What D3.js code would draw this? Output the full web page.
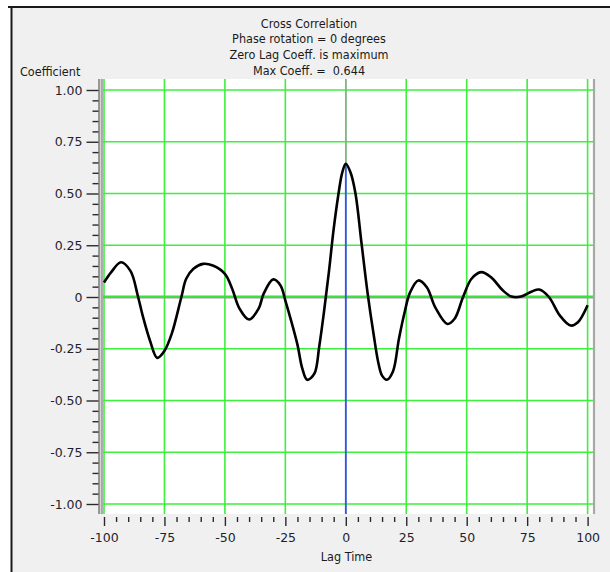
<!DOCTYPE html>
<html>
<head>
<meta charset="utf-8">
<script src="https://cdn.jsdelivr.net/npm/d3@7"></script>
<style>
  html, body { margin: 0; padding: 0; background: #ffffff; }
  svg { display: block; }
  text { white-space: pre; }
</style>
</head>
<body>
<svg id="chart" width="610" height="572"></svg>
<script>
// Title block
const titleLines = ["Cross Correlation", "Phase rotation = 0 degrees", "Zero Lag Coeff. is maximum", "Max Coeff. =  0.644"];
const yAxisTitle = "Coefficient";
const xAxisTitle = "Lag Time";

// Axis ticks
const xMajorTicks = [-100, -75, -50, -25, 0, 25, 50, 75, 100];
const yMajorTicks = [-1, -0.75, -0.5, -0.25, 0, 0.25, 0.5, 0.75, 1];

// Correlation curve: lag vs. coefficient
const lags = [-100, -97, -93, -89, -86, -84, -81, -78, -75, -72, -68, -66, -63, -59, -55, -50, -47, -44, -40, -36, -34, -30, -27, -25, -23, -20, -18, -16, -13, -11, -9, -7, -5, -3, -1.5, 0, 2, 4, 6.5, 9, 11.5, 13.5, 15, 17, 19.5, 22, 24.5, 26.5, 30, 33.5, 37, 42, 45, 48.5, 52, 56, 60, 65, 68.5, 72.5, 77, 80, 84, 88.5, 93, 96, 100];
const coeffs = [0.07, 0.12, 0.168, 0.125, 0.005, -0.09, -0.21, -0.294, -0.26, -0.178, 0.0, 0.088, 0.136, 0.16, 0.152, 0.112, 0.04, -0.055, -0.109, -0.055, 0.015, 0.085, 0.056, -0.017, -0.098, -0.23, -0.345, -0.4, -0.37, -0.24, -0.07, 0.12, 0.33, 0.5, 0.6, 0.644, 0.6, 0.5, 0.26, 0.02, -0.18, -0.32, -0.38, -0.4, -0.36, -0.2, -0.065, 0.02, 0.08, 0.047, -0.05, -0.13, -0.105, 0.0, 0.088, 0.12, 0.096, 0.031, 0.002, 0.002, 0.027, 0.036, 0.0, -0.089, -0.138, -0.122, -0.04];
const maxLag = 0;
const maxCoeff = 0.644;

const svg = d3.select("#chart");
const W = 610, H = 572;

// plot frame
const plot = { left: 103, right: 595, top: 79, bottom: 514 };

const x = d3.scaleLinear().domain([-100, 100]).range([104, 587.6]);
const y = d3.scaleLinear().domain([-1, 1]).range([504, 90]);

// window background and border
svg.append("rect").attr("x", 0).attr("y", 0).attr("width", W).attr("height", H).attr("fill", "#ffffff");
svg.append("rect").attr("x", 11).attr("y", 7).attr("width", W - 11).attr("height", H - 7).attr("fill", "#f0f0f0");
svg.append("line").attr("x1", 8).attr("x2", W).attr("y1", 7).attr("y2", 7).attr("stroke", "#1a1a1a").attr("stroke-width", 2);
svg.append("line").attr("x1", 11.5).attr("x2", 11.5).attr("y1", 7).attr("y2", H).attr("stroke", "#1a1a1a").attr("stroke-width", 2);

// plot area
svg.append("rect")
  .attr("x", plot.left).attr("y", plot.top)
  .attr("width", plot.right - plot.left).attr("height", plot.bottom - plot.top)
  .attr("fill", "#ffffff");

// grid
const grid = svg.append("g").attr("stroke", "#3cf03c").attr("stroke-width", 1.6);
grid.selectAll("line.v").data(xMajorTicks).join("line")
  .attr("x1", d => x(d)).attr("x2", d => x(d))
  .attr("y1", plot.top).attr("y2", plot.bottom);
grid.selectAll("line.h").data(yMajorTicks.filter(d => d !== 0)).join("line")
  .attr("x1", plot.left).attr("x2", plot.right)
  .attr("y1", d => y(d)).attr("y2", d => y(d));

// zero coefficient line
svg.append("line")
  .attr("x1", plot.left).attr("x2", plot.right)
  .attr("y1", y(0)).attr("y2", y(0))
  .attr("stroke", "#9a9a9a").attr("stroke-width", 3);
svg.append("line")
  .attr("x1", plot.left).attr("x2", plot.right)
  .attr("y1", y(0)).attr("y2", y(0))
  .attr("stroke", "#3ce03c").attr("stroke-width", 1.8);

// zero lag line: gray above the maximum, blue below it
svg.append("line")
  .attr("x1", x(maxLag)).attr("x2", x(maxLag))
  .attr("y1", plot.top).attr("y2", y(maxCoeff))
  .attr("stroke", "#a0a0a0").attr("stroke-width", 1.6);
svg.append("line")
  .attr("x1", x(maxLag)).attr("x2", x(maxLag))
  .attr("y1", y(maxCoeff)).attr("y2", plot.bottom)
  .attr("stroke", "#4848ff").attr("stroke-width", 1.8);

// plot side borders
svg.append("rect").attr("x", 98.5).attr("y", plot.top).attr("width", 4).attr("height", plot.bottom - plot.top).attr("fill", "#d4d4d4");
svg.append("line").attr("x1", 99).attr("x2", 99).attr("y1", plot.top).attr("y2", plot.bottom).attr("stroke", "#6a6a6a").attr("stroke-width", 1.2);
svg.append("line").attr("x1", 102).attr("x2", 102).attr("y1", plot.top).attr("y2", plot.bottom).attr("stroke", "#8a8a8a").attr("stroke-width", 1.2);
svg.append("line").attr("x1", 594).attr("x2", 594).attr("y1", plot.top).attr("y2", plot.bottom).attr("stroke", "#a8a8a8").attr("stroke-width", 2.2);

// correlation curve
const pts = lags.map((l, i) => [l, coeffs[i]]);
svg.append("path")
  .datum(pts)
  .attr("fill", "none")
  .attr("stroke", "#000000")
  .attr("stroke-width", 2.6)
  .attr("stroke-linejoin", "round")
  .attr("d", d3.line().x(d => x(d[0])).y(d => y(d[1])).curve(d3.curveCatmullRom.alpha(0.5)));

// axes
const tickFont = "'DejaVu Sans', sans-serif";
const labelFont = "'DejaVu Sans Condensed', 'DejaVu Sans', sans-serif";

const yMinor = d3.range(-1, 1.0001, 0.05).map(v => +v.toFixed(2)).filter(v => !yMajorTicks.includes(v));
const xMinor = d3.range(-100, 101, 5).filter(v => !xMajorTicks.includes(v));

const yAxisMinor = svg.append("g").attr("transform", "translate(98.5,0)")
  .call(d3.axisLeft(y).tickValues(yMinor).tickSize(6).tickFormat(""));
const yAxisMajor = svg.append("g").attr("transform", "translate(98.5,0)")
  .call(d3.axisLeft(y).tickValues(yMajorTicks).tickSize(12).tickPadding(4)
    .tickFormat(d => d === 0 ? "0" : d.toFixed(2)));

const xAxisMinor = svg.append("g").attr("transform", "translate(0,517)")
  .call(d3.axisBottom(x).tickValues(xMinor).tickSize(5).tickFormat(""));
const xAxisMajor = svg.append("g").attr("transform", "translate(0,517)")
  .call(d3.axisBottom(x).tickValues(xMajorTicks).tickSize(9).tickPadding(7)
    .tickFormat(d => String(d)));

[yAxisMinor, yAxisMajor, xAxisMinor, xAxisMajor].forEach(g => {
  g.select(".domain").remove();
  g.selectAll(".tick line").attr("stroke", "#2a2a2a").attr("stroke-width", 1.4);
  g.selectAll(".tick text").attr("fill", "#1e1e2e").style("font-family", tickFont).style("font-size", "12.5px");
});

// titles
svg.append("g").selectAll("text").data(titleLines).join("text")
  .attr("x", 309).attr("y", (d, i) => 27.5 + i * 15.9)
  .attr("text-anchor", "middle")
  .style("font-family", labelFont).style("font-size", "12.5px").attr("fill", "#1a1a1a")
  .text(d => d);

svg.append("text")
  .attr("x", 20).attr("y", 75.5)
  .style("font-family", labelFont).style("font-size", "12.5px").attr("fill", "#1a1a1a")
  .text(yAxisTitle);

svg.append("text")
  .attr("x", 346.5).attr("y", 560.5)
  .attr("text-anchor", "middle")
  .style("font-family", labelFont).style("font-size", "12.5px").attr("fill", "#1a1a1a")
  .text(xAxisTitle);
</script>
</body>
</html>
